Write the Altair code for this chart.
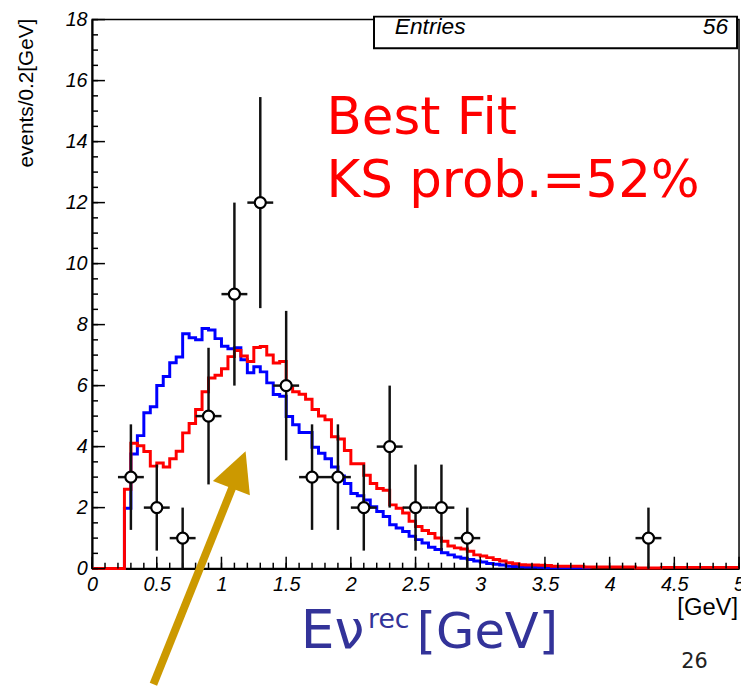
import altair as alt
import pandas as pd

# ---------------- data ----------------
BIN_W = 0.05  # MC histogram bin width [GeV], bins start at 0.00

# blue MC histogram, bins 0.00 .. 3.80
blue_vals = [0, 0, 0, 0, 0,
             1.98, 3.76, 4.36, 5.11, 5.31,
             6.00, 6.30, 6.75, 6.94, 7.70,
             7.57, 7.50, 7.87, 7.82, 7.54,
             7.29, 7.21, 7.24, 6.85, 6.42,
             6.62, 6.45, 6.09, 5.71, 5.65,
             4.99, 4.72, 4.46, 4.46, 3.98,
             3.78, 3.60, 3.33, 3.04, 2.79,
             2.46, 2.39, 2.25, 2.03, 1.87,
             1.71, 1.44, 1.33, 1.22, 1.06,
             0.95, 0.84, 0.70, 0.63, 0.52,
             0.45, 0.38, 0.34, 0.30, 0.25,
             0.22, 0.17, 0.14, 0.12, 0.08,
             0.07, 0.06, 0.05, 0.05, 0.04,
             0.03, 0.03, 0.03, 0.03, 0.03,
             0.03, 0.03]

# red MC histogram (best fit), bins 0.00 .. 4.95
red_vals = [0, 0, 0, 0, 0,
            2.60, 4.11, 4.03, 3.84, 3.36,
            3.46, 3.33, 3.60, 3.85, 4.45,
            4.76, 5.22, 5.80, 6.25, 6.34,
            6.55, 6.95, 7.15, 6.97, 6.79,
            7.25, 7.28, 7.00, 6.74, 6.79,
            5.92, 5.80, 5.72, 5.55, 5.22,
            5.00, 4.88, 4.32, 4.25, 3.87,
            3.44, 3.44, 3.06, 2.79, 2.63,
            2.57, 2.09, 1.98, 1.82, 1.55,
            1.38, 1.25, 1.15, 1.00, 0.90,
            0.74, 0.68, 0.64, 0.57, 0.45,
            0.41, 0.36, 0.30, 0.25, 0.19,
            0.16, 0.13, 0.12, 0.12, 0.11,
            0.10, 0.08, 0.08, 0.08, 0.08,
            0.08, 0.05, 0.05, 0.05, 0.05,
            0.05, 0.05, 0.05, 0.05, 0.02,
            0.02, 0.02, 0.02, 0.04, 0.04,
            0.04, 0.04, 0.04, 0.04, 0.04,
            0.04, 0.04, 0.04, 0.04, 0.04]

# data points (events / 0.2 GeV)
data_x = [0.3, 0.5, 0.7, 0.9, 1.1, 1.3, 1.5, 1.7, 1.9, 2.1, 2.3, 2.5, 2.7, 2.9, 4.3]
data_n = [3, 2, 1, 5, 9, 12, 6, 3, 3, 2, 4, 2, 2, 1, 1]
data_err = [1.73, 1.41, 1.0, 2.24, 3.0, 3.46, 2.45, 1.73, 1.73, 1.41, 2.0, 1.41, 1.41, 1.0, 1.0]
data_xerr = 0.1

# axis ticks / labels
x_major = [0, 0.5, 1, 1.5, 2, 2.5, 3, 3.5, 4, 4.5, 5]
x_minor = [round(0.1 * i, 1) for i in range(51)]
y_major = [0, 2, 4, 6, 8, 10, 12, 14, 16, 18]
y_minor = [0.5 * i for i in range(37)]

# texts
y_title = "events/0.2[GeV]"
x_unit = "[GeV]"
fit_lines = ["Best Fit", "KS prob.=52%"]
entries_label, entries_value = "Entries", "56"
big_label = ["E\u03bd", "rec", "[GeV]"]
page_no = "26"

# ---------------- build tables ----------------
edges = [round(BIN_W * i, 2) for i in range(101)]
blue_df = pd.DataFrame({"E": edges[:len(blue_vals) + 1], "v": blue_vals + [0.0]})
red_df = pd.DataFrame({"E": edges[:len(red_vals) + 1], "v": red_vals + [red_vals[-1]]})
pts = pd.DataFrame({
    "x": data_x, "n": data_n,
    "lo": [n - e for n, e in zip(data_n, data_err)],
    "hi": [n + e for n, e in zip(data_n, data_err)],
    "xl": [x - data_xerr for x in data_x],
    "xh": [x + data_xerr for x in data_x],
})

W, H = 654, 555
xs = alt.Scale(domain=[0, 5], nice=False, zero=False)
ys = alt.Scale(domain=[0, 18], nice=False, zero=False)

common_axis = dict(format="~g", labelFont="Liberation Sans", labelFontStyle="italic",
                   labelFontSize=20, labelColor="black", ticks=False, tickSize=0,
                   domain=True, domainColor="black", domainWidth=2, grid=False,
                   title=None, labelFlush=False, labelOverlap=False)
xaxis = alt.Axis(values=x_major, labelPadding=6, **common_axis)
yaxis = alt.Axis(values=y_major, labelPadding=5, **common_axis)


def X(field):
    return alt.X(field, scale=xs, axis=xaxis)


def Y(field):
    return alt.Y(field, scale=ys, axis=yaxis)


blue = alt.Chart(blue_df).mark_line(interpolate="step-after", color="#0000FF", strokeWidth=3).encode(
    x=X("E:Q"), y=Y("v:Q"))
red = alt.Chart(red_df).mark_line(interpolate="step-after", color="#FF0000", strokeWidth=3).encode(
    x=X("E:Q"), y=Y("v:Q"))


def yticks(vals, length):
    return alt.Chart(pd.DataFrame({"t": vals})).mark_rule(color="black", strokeWidth=1.5).encode(
        y=Y("t:Q"), x=alt.value(0), x2=alt.value(length))


def xticks(vals, length):
    return alt.Chart(pd.DataFrame({"t": vals})).mark_rule(color="black", strokeWidth=1.5).encode(
        x=X("t:Q"), y=alt.value(H), y2=alt.value(H - length))


vbars = alt.Chart(pts).mark_rule(color="#111111", strokeWidth=2.5).encode(
    x=X("x:Q"), y=Y("lo:Q"), y2="hi:Q")
hbars = alt.Chart(pts).mark_rule(color="#111111", strokeWidth=2.5).encode(
    x=X("xl:Q"), x2="xh:Q", y=Y("n:Q"))
points = alt.Chart(pts).mark_point(shape="circle", filled=True, fill="white", stroke="black",
                                   strokeWidth=2.2, size=125, opacity=1, fillOpacity=1).encode(
    x=X("x:Q"), y=Y("n:Q"))


def label(text, x, y, **kw):
    return alt.Chart(pd.DataFrame({"t": [text]})).mark_text(**kw).encode(
        x=alt.value(x), y=alt.value(y), text="t:N")


one = pd.DataFrame({"a": [0]})
entries_box = alt.Chart(one).mark_rect(fill="white", stroke="black", strokeWidth=2).encode(
    x=alt.value(285), x2=alt.value(652), y=alt.value(-3), y2=alt.value(29))

arrow_shaft = alt.Chart(one).mark_rule(color="#CC9900", strokeWidth=8, strokeCap="butt").encode(
    x=alt.value(62), y=alt.value(672), x2=alt.value(143), y2=alt.value(470))
arrow_head = alt.Chart(one).mark_point(shape="M0,-1L1,1L-1,1Z", filled=True, color="#CC9900",
                                       size=1600, angle=21, opacity=1).encode(
    x=alt.value(148), y=alt.value(455))

layers = [
    blue, red,
    yticks(y_major, 13), yticks(y_minor, 6),
    xticks(x_major, 12), xticks(x_minor, 6),
    vbars, hbars, points,
    entries_box,
    label(entries_label, 306, 15, font="Liberation Sans", fontStyle="italic", fontSize=23,
          align="left", baseline="alphabetic", color="black"),
    label(entries_value, 643, 15, font="Liberation Sans", fontStyle="italic", fontSize=23,
          align="right", baseline="alphabetic", color="black"),
    label(fit_lines[0], 237, 116, font="DejaVu Sans", fontSize=52, align="left",
          baseline="alphabetic", color="#FF0000"),
    label(fit_lines[1], 237, 179, font="DejaVu Sans", fontSize=52, align="left",
          baseline="alphabetic", color="#FF0000"),
    label(y_title, -66, -1, font="Liberation Sans", fontSize=21, angle=270, align="right",
          baseline="middle", color="black"),
    label(x_unit, 653, 602, font="Liberation Sans", fontSize=24, align="right",
          baseline="alphabetic", color="black"),
    label(big_label[0], 211, 635, font="DejaVu Sans", fontSize=54, align="left",
          baseline="alphabetic", color="#333399"),
    label(big_label[1], 279, 615, font="DejaVu Sans", fontSize=27, align="left",
          baseline="alphabetic", color="#333399"),
    label(big_label[2], 471, 635, font="DejaVu Sans", fontSize=50, align="right",
          baseline="alphabetic", color="#333399"),
    label(page_no, 609, 655, font="DejaVu Sans", fontSize=21, align="center",
          baseline="alphabetic", color="#222222"),
    arrow_shaft, arrow_head,
]

chart = alt.layer(*layers).properties(
    width=W, height=H,
    autosize=alt.AutoSizeParams(type="none"),
    padding={"left": 85, "top": 8, "right": 2, "bottom": 120},
    background="white",
).configure_view(stroke="black", strokeWidth=1.5)

chart.save("out.html", embed_options={"renderer": "svg", "actions": False})
